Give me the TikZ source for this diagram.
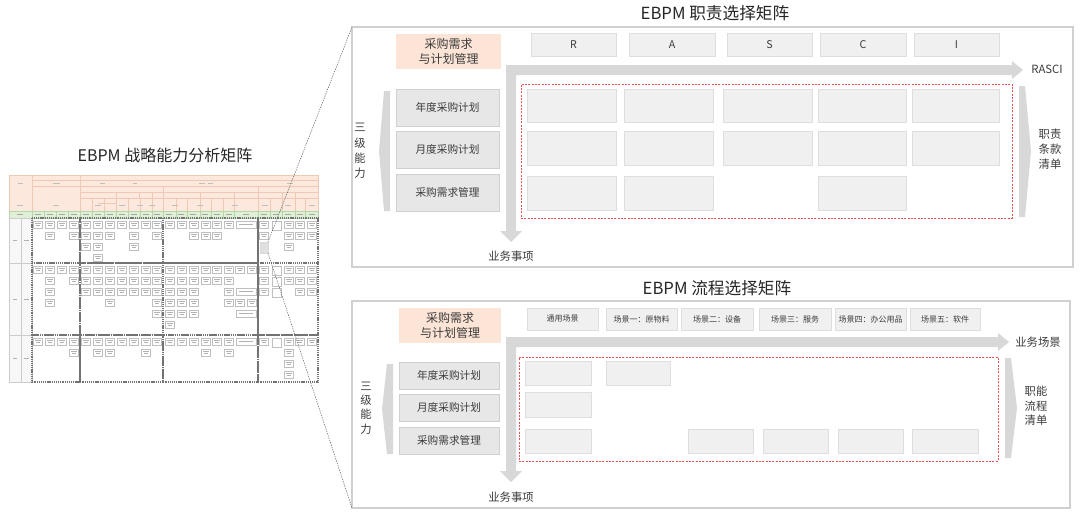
\documentclass[tikz,border=0pt]{standalone}
\usepackage{fontspec}
\setmainfont{Noto Sans CJK SC}
\definecolor{panelc}{RGB}{208,208,208}
\definecolor{cellf}{RGB}{240,240,240}
\definecolor{celld}{RGB}{222,222,222}
\definecolor{lboxf}{RGB}{231,231,231}
\definecolor{lboxd}{RGB}{208,208,208}
\definecolor{peach}{RGB}{252,228,214}
\definecolor{arrowc}{RGB}{216,216,216}
\definecolor{redd}{RGB}{230,80,80}
\definecolor{txt}{RGB}{60,60,60}
\definecolor{thorange}{RGB}{252,232,220}
\definecolor{thline}{RGB}{240,200,180}
\definecolor{thgreen}{RGB}{224,240,215}
\definecolor{thgline}{RGB}{180,215,170}
\newcommand\bx[7]{\node[#6, anchor=north west, minimum width={(#4-(#2))*0.75pt}, minimum height={(#5-(#3))*0.75pt}] (#1) at (#2,#3) {#7};}
\begin{document}
\begin{tikzpicture}[x=0.75pt,y=-0.75pt,
  every node/.style={inner sep=0pt, outer sep=0pt, text=txt},
  panel/.style={draw=panelc, line width=0.9pt, fill=white},
  hdr/.style={draw=celld, fill=cellf, line width=0.6pt, font=\fontsize{8}{9}\selectfont},
  scn/.style={hdr, font=\fontsize{6}{7}\selectfont},
  cellbox/.style={draw=celld, fill=cellf, line width=0.5pt},
  lbox/.style={draw=lboxd, fill=lboxf, line width=0.6pt, font=\fontsize{8}{9}\selectfont},
  obox/.style={fill=peach, font=\fontsize{9}{11}\selectfont, align=center},
  axis/.style={fill=arrowc},
  reddash/.style={draw=redd, line width=0.5pt, dash pattern=on 1.5pt off 1pt},
  ttl/.style={font=\fontsize{12.5}{14}\selectfont, text=black!85},
  lbl/.style={font=\fontsize{8.5}{10}\selectfont},
  vlbl/.style={font=\fontsize{8.5}{11.5}\selectfont, align=center},
  zoomline/.style={draw=black!60, line width=0.4pt, dash pattern=on 1pt off 0.8pt},
  sbox/.style={draw=black!25, fill=white, line width=0.3pt},
  stxt/.style={draw=black!30, line width=0.25pt},
  grp/.style={draw=black!55, line width=0.9pt, dash pattern=on 0.8pt off 0.6pt},
]
\fill[white] (0,0) rectangle (1080,515);
\useasboundingbox (0,0) rectangle (1080,515);

%% ================= LEFT THUMBNAIL =================
\node[font=\fontsize{12}{14}\selectfont, text=black!85] (lt) at (165,155) {EBPM 战略能力分析矩阵};
% header
\fill[thorange] (9,175) rectangle (318,211);
\begin{scope}[draw=thline, line width=0.3pt]
  \draw (9,175) rectangle (318,211);
  \draw (32,175) -- (32,211) (80,175) -- (80,211);
  \draw (32,180) -- (318,180) (32,186) -- (318,186);
  \draw (80,192) -- (318,192) (80,198) -- (318,198);
  \draw (163,186) -- (163,211) (258,186) -- (258,211);
  \foreach \x in {92,104,116,128,140,152,176,187,200,211,223,234,270,282,295,305}
    \draw (\x,198) -- (\x,211);
  \foreach \x in {116,139,152,200,234,282,295}
    \draw (\x,192) -- (\x,198);
  \draw (98,203) -- (116,203) (104,203) -- (104,211);
\end{scope}
\foreach \x/\w in {20/5,56/7,102/5,135/4,202/6,290/6,210/5}
  \draw[draw=black!25, line width=0.3pt] (\x-\w/2,183) -- (\x+\w/2,183);
\foreach \x in {20,56,98,122,140,152,175,200,235,265,288,312}
  \draw[draw=black!25, line width=0.3pt] (\x-3,205) -- (\x+3,205);
% green row
\fill[thgreen] (9,211) rectangle (318,218);
\begin{scope}[draw=thgline, line width=0.3pt]
  \draw (9,211) rectangle (318,218);
  \foreach \x in {32,44,56,68,80,92,104,116,128,140,152,163,176,187,200,211,223,234,258,270,282,295,305}
    \draw (\x,211) -- (\x,218);
\end{scope}
\foreach \x in {20,38,50,62,74,86,98,110,122,134,146,157,169,181,193,205,217,229,246,264,276,288,300,312}
  \draw[draw=black!35, line width=0.3pt] (\x-3,214.5) -- (\x+3,214.5);
% body left columns
\fill[black!3] (9,218) rectangle (32,382);
\begin{scope}[draw=black!20, line width=0.3pt]
  \draw (9,218) rectangle (32,382);
  \draw (21,218) -- (21,382);
  \draw (9,263) -- (32,263) (9,335) -- (32,335);
\end{scope}
\foreach \y in {240,299,358}{
  \draw[stxt] (13,\y) -- (17,\y);
  \draw[stxt] (24,\y) -- (29,\y);
}
% dashed groups
\foreach \ya/\yb in {218/263,263/335,335/382}{
  \foreach \xa/\xb in {32/80,80/163,163/258,258/318}
    \draw[grp] (\xa,\ya) rectangle (\xb,\yb);
}
% small boxes
\foreach \cx/\y in {
  38/221, 50/221, 50/232, 62/221, 74/221, 74/232,
  86/221, 86/232, 86/243, 98/221, 98/232, 98/243, 98/254, 110/221, 110/232, 122/221,
  134/221, 134/232, 134/243, 146/221, 157/221, 157/232,
  169.5/221, 181.5/221, 193.5/221, 193.5/232, 205.5/221, 205.5/232, 217/221, 217/232, 229/221,
  264/221, 264/232, 288.5/221, 288.5/232, 288.5/243, 300/221, 300/232, 312/221, 312/232,
  38/266, 50/266, 50/277, 50/288, 50/299, 62/266, 74/266, 74/277,
  86/266, 86/277, 86/288, 98/266, 98/277, 98/288, 110/266, 110/277, 110/288, 110/299,
  122/266, 122/277, 122/288, 134/266, 134/277, 134/288, 146/266, 146/277, 146/288,
  157/266, 157/277, 157/288, 157/299, 157/310,
  169.5/266, 169.5/277, 169.5/288, 169.5/299, 169.5/310, 169.5/321,
  181.5/266, 181.5/277, 181.5/288, 181.5/299, 181.5/310,
  193.5/266, 193.5/277, 193.5/288, 193.5/299, 193.5/310,
  205.5/266, 205.5/277, 217/266, 217/277, 229/266, 229/277, 229/288, 229/299,
  240/266, 252/266, 240/299, 252/299,
  264/266, 264/277, 264/288, 288.5/266, 288.5/277, 300/266, 300/277, 300/288, 312/266, 312/277, 312/288,
  38/338, 50/338, 62/338, 74/338, 74/349,
  86/338, 98/338, 98/349, 110/338, 110/349, 122/338, 134/338, 146/338, 146/349, 157/338,
  169.5/338, 181.5/338, 193.5/338, 205.5/338, 205.5/349, 217/338, 229/338, 229/349,
  264/338, 288.5/338, 288.5/349, 288.5/360, 288.5/371, 300/338, 312/338}{
  \draw[sbox, shift={(\cx,\y)}] (-4.5,0) rectangle (4.5,7);
  \draw[stxt, shift={(\cx,\y)}] (-3,2.5) -- (3,2.5) (-2,4.5) -- (2,4.5);
}
% wide boxes
\foreach \y in {221,288,310,338}{
  \draw[sbox, shift={(246,\y)}] (-10,0) rectangle (10,7);
  \draw[stxt, shift={(246,\y)}] (-7,3.5) -- (7,3.5);
}
% empty boxes
\foreach \y in {221,266,277,288,338}
  \draw[sbox] (272,\y) rectangle (281,\y+9);
% highlighted cell
\node[fill=black!12, draw=black!15, line width=0.3pt, anchor=north west, minimum width={8*0.75pt}, minimum height={11*0.75pt}] (hl) at (260,242) {};

%% ================= TOP PANEL =================
\bx{p1}{352}{27}{1073}{267}{panel}{}
\node[ttl] (t1) at (715,13) {EBPM 职责选择矩阵};
\bx{o1}{396}{34}{501}{69}{obox}{采购需求\\与计划管理}
\bx{hR}{531}{33}{616}{56}{hdr}{R}
\bx{hA}{629}{33}{715}{56}{hdr}{A}
\bx{hS}{727}{33}{812}{56}{hdr}{S}
\bx{hC}{820}{33}{906}{56}{hdr}{C}
\bx{hI}{914}{33}{999}{56}{hdr}{I}
\fill[axis] (506,65) -- (1012,65) -- (1012,61) -- (1023,70) -- (1012,79) -- (1012,75)
  -- (516,75) -- (516,231) -- (522,231) -- (511,242) -- (500,231) -- (506,231) -- cycle;
\node[lbl] (ra) at (1047,69) {RASCI};
\node[lbl] (yw1) at (511,256) {业务事项};
\bx{rd1}{521}{84}{1012}{218}{reddash}{}
\foreach \ya/\yb/\cols [count=\r] in {89/122/{1,2,3,4,5}, 131/165/{1,2,3,4,5}, 176/210/{1,2,4}}{
  \foreach \c in \cols {
    \ifcase\c\or\def\xa{527}\def\xb{616}\or\def\xa{624}\def\xb{713}\or\def\xa{723}\def\xb{812}\or\def\xa{818}\def\xb{906}\or\def\xa{912}\def\xb{999}\fi
    \bx{ca\r\c}{\xa}{\ya}{\xb}{\yb}{cellbox}{}
  }
}
\bx{l11}{396}{89}{499}{126}{lbox}{年度采购计划}
\bx{l12}{396}{131}{499}{168}{lbox}{月度采购计划}
\bx{l13}{396}{174}{499}{211}{lbox}{采购需求管理}
\fill[axis] (384,91) -- (390,91) -- (390,211) -- (384,211) -- (379,151) -- cycle;
\fill[axis] (1019,86) -- (1025,86) -- (1031,151) -- (1025,217) -- (1019,217) -- cycle;
\node[vlbl] (s1) at (360,151) {三\\级\\能\\力};
\node[vlbl, font=\fontsize{8.5}{11.2}\selectfont] (r1) at (1050,149) {职责\\条款\\清单};

%% ================= BOTTOM PANEL =================
\bx{p2}{352}{301}{1070}{508}{panel}{}
\node[ttl] (t2) at (717,288) {EBPM 流程选择矩阵};
\bx{o2}{399}{308}{501}{343}{obox}{采购需求\\与计划管理}
\bx{g0}{527}{308}{598}{330}{scn}{通用场景}
\bx{g1}{606}{308}{677}{330}{scn}{场景一：原物料}
\bx{g2}{681}{308}{753}{330}{scn}{场景二：设备}
\bx{g3}{759}{308}{831}{330}{scn}{场景三：服务}
\bx{g4}{835}{308}{906}{330}{scn}{场景四：办公用品}
\bx{g5}{910}{308}{980}{330}{scn}{场景五：软件}
\fill[axis] (506,337) -- (998,337) -- (998,333) -- (1009,342) -- (998,351) -- (998,347)
  -- (516,347) -- (516,471) -- (522,471) -- (511,482) -- (500,471) -- (506,471) -- cycle;
\node[lbl] (ys) at (1038,342) {业务场景};
\node[lbl] (yw2) at (511,497) {业务事项};
\bx{rd2}{519}{357}{998}{461}{reddash}{}
\bx{cb11}{525}{361}{591}{385}{cellbox}{}
\bx{cb12}{606}{361}{670}{385}{cellbox}{}
\bx{cb21}{525}{392}{591}{417}{cellbox}{}
\bx{cb31}{525}{429}{591}{453}{cellbox}{}
\bx{cb32}{688}{429}{753}{453}{cellbox}{}
\bx{cb33}{763}{429}{828}{453}{cellbox}{}
\bx{cb34}{838}{429}{903}{453}{cellbox}{}
\bx{cb35}{912}{429}{978}{453}{cellbox}{}
\bx{l21}{399}{362}{499}{389}{lbox}{年度采购计划}
\bx{l22}{399}{394}{499}{421}{lbox}{月度采购计划}
\bx{l23}{399}{427}{499}{454}{lbox}{采购需求管理}
\fill[axis] (387,364) -- (393,364) -- (393,454) -- (387,454) -- (382,409) -- cycle;
\fill[axis] (1005,358) -- (1011,358) -- (1017,408) -- (1011,458) -- (1005,458) -- cycle;
\node[vlbl, font=\fontsize{8.5}{10.7}\selectfont] (s2) at (366,408) {三\\级\\能\\力};
\node[vlbl, font=\fontsize{8.5}{10.9}\selectfont] (r2) at (1036,406) {职能\\流程\\清单};

%% ================= ZOOM LINES =================
\draw[zoomline] (hl.north east) -- (p1.north west);
\draw[zoomline] (hl.south east) -- (p2.south west);
\end{tikzpicture}
\end{document}
